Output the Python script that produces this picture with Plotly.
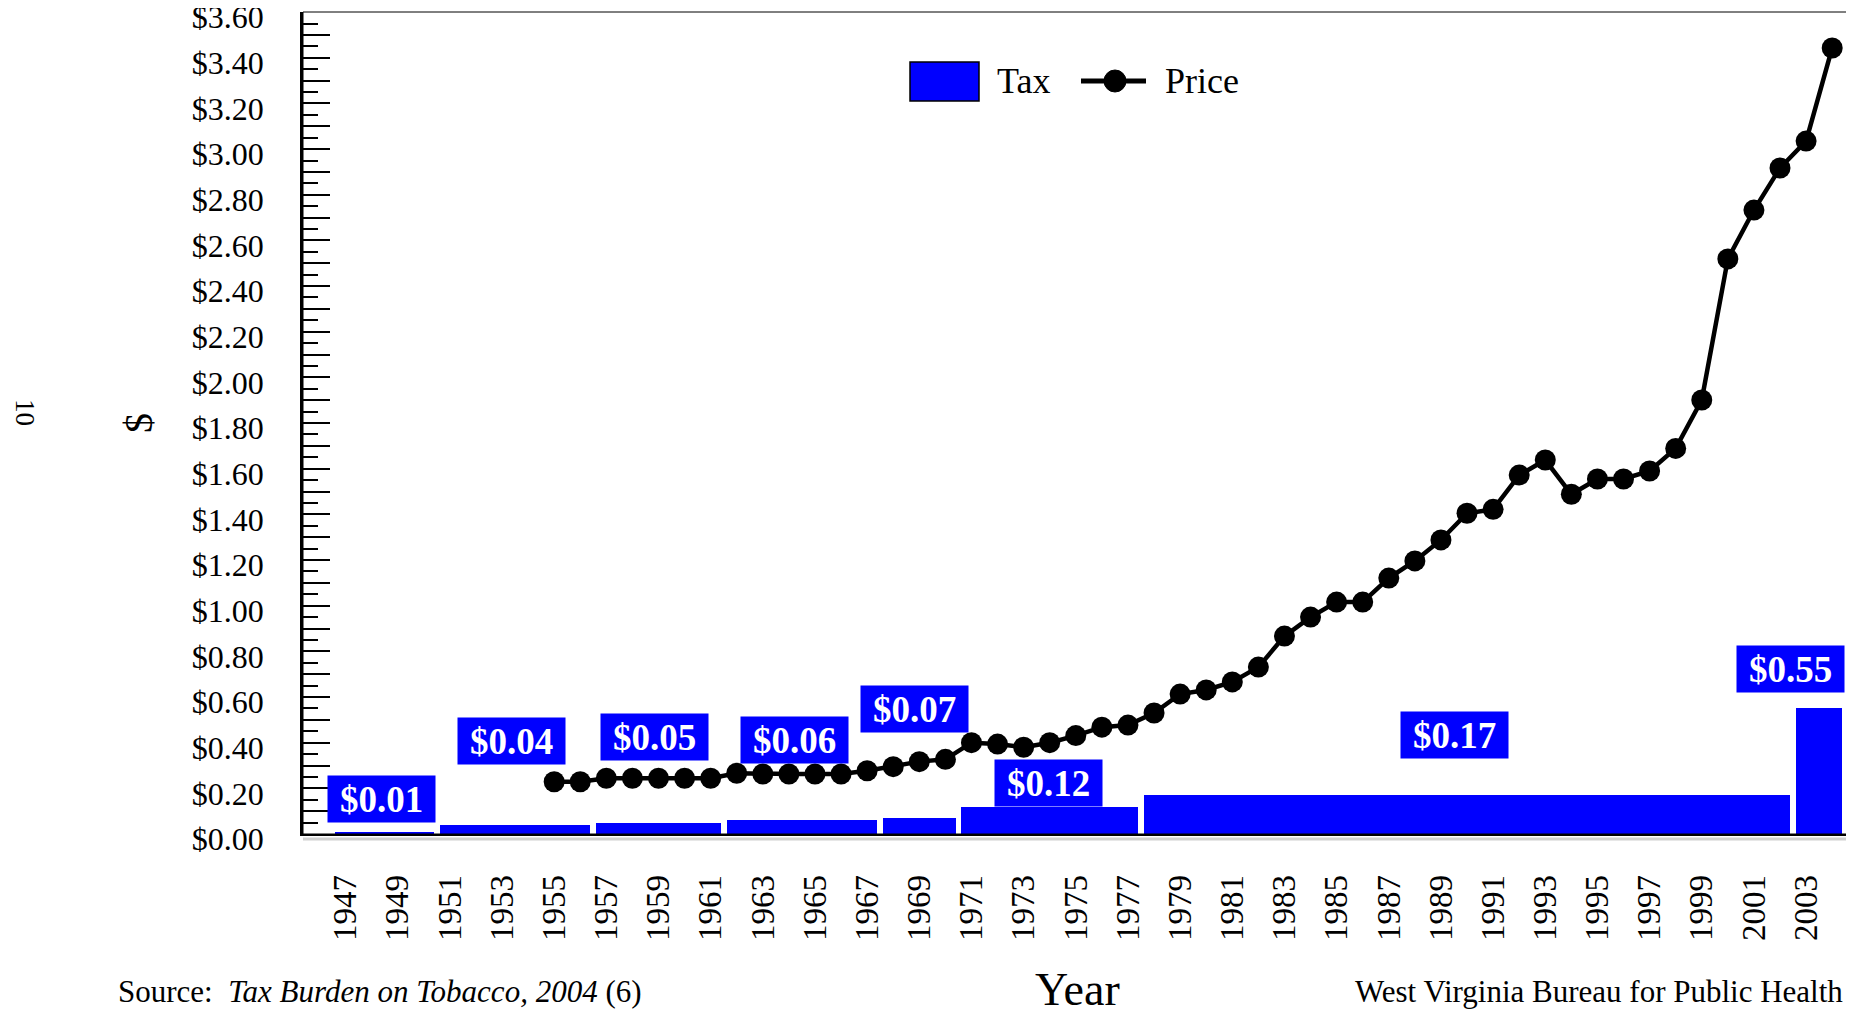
import plotly.graph_objects as go

# average retail price per pack, 1955-2004
price_years = list(range(1955, 2005))
price = [0.229, 0.229, 0.244, 0.244, 0.244, 0.244, 0.244, 0.266, 0.263, 0.263,
         0.263, 0.263, 0.277, 0.295, 0.317, 0.327, 0.400, 0.394, 0.380, 0.400,
         0.431, 0.468, 0.477, 0.530, 0.613, 0.631, 0.666, 0.731, 0.867, 0.950,
         1.016, 1.016, 1.121, 1.196, 1.288, 1.405, 1.422, 1.572, 1.638, 1.488,
         1.555, 1.555, 1.590, 1.689, 1.901, 2.519, 2.733, 2.917, 3.035, 3.443]

# state tax per pack, one entry per rate period
tax_start = [1947, 1951, 1957, 1962, 1968, 1971, 1978, 2003]
tax_end = [1950, 1956, 1961, 1967, 1970, 1977, 2002, 2004]
tax_rate = [0.01, 0.04, 0.05, 0.06, 0.07, 0.12, 0.17, 0.55]

year_ticks = list(range(1947, 2004, 2))
dollar_ticks = [round(i / 10, 1) for i in range(0, 37)]
dollar_text = ["$%.2f" % v if i % 2 == 0 else "" for i, v in enumerate(dollar_ticks)]

# where the blue value boxes are placed
label_x = [1948.38, 1953.38, 1958.85, 1964.20, 1968.81, 1973.94, 1989.52, 2002.39]
label_y = [0.153, 0.406, 0.423, 0.413, 0.546, 0.225, 0.434, 0.721]

W, H = 1854, 1014
OFF = 8  # the page body adds an 8px margin around the figure
# plot area edges in screen pixels
X0, X1, Y0, Y1 = 303, 1852, 12, 834
L, R, T, B = X0 - OFF, W - (X1 - OFF), Y0 - OFF, H - (Y1 - OFF)
FONT = "Liberation Serif"
BLUE = "#0000ff"


def px(x):
    return (x - X0) / (X1 - X0)


def py(y):
    return (Y1 - y) / (Y1 - Y0)


fig = go.Figure()

fig.add_trace(go.Bar(
    x=[(s + e) / 2 for s, e in zip(tax_start, tax_end)],
    y=tax_rate,
    width=[e - s + 1 - 0.22 for s, e in zip(tax_start, tax_end)],
    marker=dict(color=BLUE, line=dict(width=0)),
    name="Tax", showlegend=False))

fig.add_trace(go.Scatter(
    x=price_years, y=price, mode="lines+markers",
    line=dict(color="black", width=4.5),
    marker=dict(color="black", size=21),
    name="Price", showlegend=False, cliponaxis=False))

annotations = []
for x, y, v in zip(label_x, label_y, tax_rate):
    annotations.append(dict(
        x=x, y=y, xref="x", yref="y", showarrow=False,
        text="<b>$%.2f</b>" % v, bgcolor=BLUE, width=103, height=42, borderpad=2,
        font=dict(family=FONT, size=37, color="white")))

# custom legend
annotations += [
    dict(x=px(995), y=py(81), xref="paper", yref="paper", xanchor="left", yanchor="middle",
         text="Tax", showarrow=False, font=dict(family=FONT, size=36, color="black")),
    dict(x=px(1163), y=py(81), xref="paper", yref="paper", xanchor="left", yanchor="middle",
         text="Price", showarrow=False, font=dict(family=FONT, size=36, color="black")),
    # titles and notes
    dict(x=px(1077), y=py(1017), xref="paper", yref="paper", xanchor="center", yanchor="bottom",
         text="Year", showarrow=False, font=dict(family=FONT, size=46, color="black")),
    dict(x=px(138), y=py(423), xref="paper", yref="paper", xanchor="center", yanchor="middle",
         text="$", textangle=-90, showarrow=False, font=dict(family=FONT, size=40, color="black")),
    dict(x=px(25), y=py(412), xref="paper", yref="paper", xanchor="center", yanchor="middle",
         text="10", textangle=90, showarrow=False, font=dict(family=FONT, size=27, color="black")),
    dict(x=px(116), y=py(991), xref="paper", yref="paper", xanchor="left", yanchor="middle",
         text="Source:  <i>Tax Burden on Tobacco, 2004</i> (6)", showarrow=False,
         font=dict(family=FONT, size=31, color="black")),
    dict(x=px(1845), y=py(991), xref="paper", yref="paper", xanchor="right", yanchor="middle",
         text="West Virginia Bureau for Public Health", showarrow=False,
         font=dict(family=FONT, size=31, color="black")),
]

shapes = [
    # plot frame
    dict(type="rect", xref="paper", yref="paper", x0=0, x1=1, y0=0, y1=1,
         line=dict(color="black", width=1)),
    # grey rule under the axis
    dict(type="line", xref="paper", yref="paper", x0=0, x1=1, y0=py(839), y1=py(839),
         line=dict(color="#cfcfcf", width=3)),
    # legend swatches
    dict(type="rect", xref="paper", yref="paper", x0=px(910), x1=px(979), y0=py(101), y1=py(62),
         fillcolor=BLUE, line=dict(color="black", width=1.5)),
    dict(type="line", xref="paper", yref="paper", x0=px(1081), x1=px(1146), y0=py(81), y1=py(81),
         line=dict(color="black", width=5)),
    dict(type="circle", xref="paper", yref="paper", x0=px(1104), x1=px(1126), y0=py(92), y1=py(70),
         fillcolor="black", line=dict(color="black", width=1)),
]

fig.update_layout(
    width=W, height=H,
    margin=dict(l=L, r=R, t=T, b=B, autoexpand=False),
    plot_bgcolor="white", paper_bgcolor="white",
    font=dict(family=FONT, color="black"),
    bargap=0, showlegend=False,
    annotations=annotations, shapes=shapes,
    xaxis=dict(range=[1945.37, 2004.76], tickmode="array", tickvals=year_ticks,
               tickangle=-90, ticks="", showline=True, linecolor="black", linewidth=1.5,
               showgrid=False, zeroline=False, ticklabelstandoff=26, automargin=False,
               ticklabeloverflow="allow",
               tickfont=dict(family=FONT, size=33, color="black")),
    yaxis=dict(range=[0, 3.6005], tickmode="array", tickvals=dollar_ticks, ticktext=dollar_text,
               ticks="inside", ticklen=27, tickwidth=1.5, tickcolor="black",
               minor=dict(ticks="inside", ticklen=15, tickwidth=1.5, tickcolor="black",
                          tickmode="linear", tick0=0, dtick=0.05),
               showline=True, linecolor="black", linewidth=2.5,
               showgrid=False, zeroline=False, ticklabelstandoff=30, automargin=False,
               ticklabeloverflow="allow", ticklabelshift=5,
               tickfont=dict(family=FONT, size=32, color="black")),
)

fig.write_html("out.html")
